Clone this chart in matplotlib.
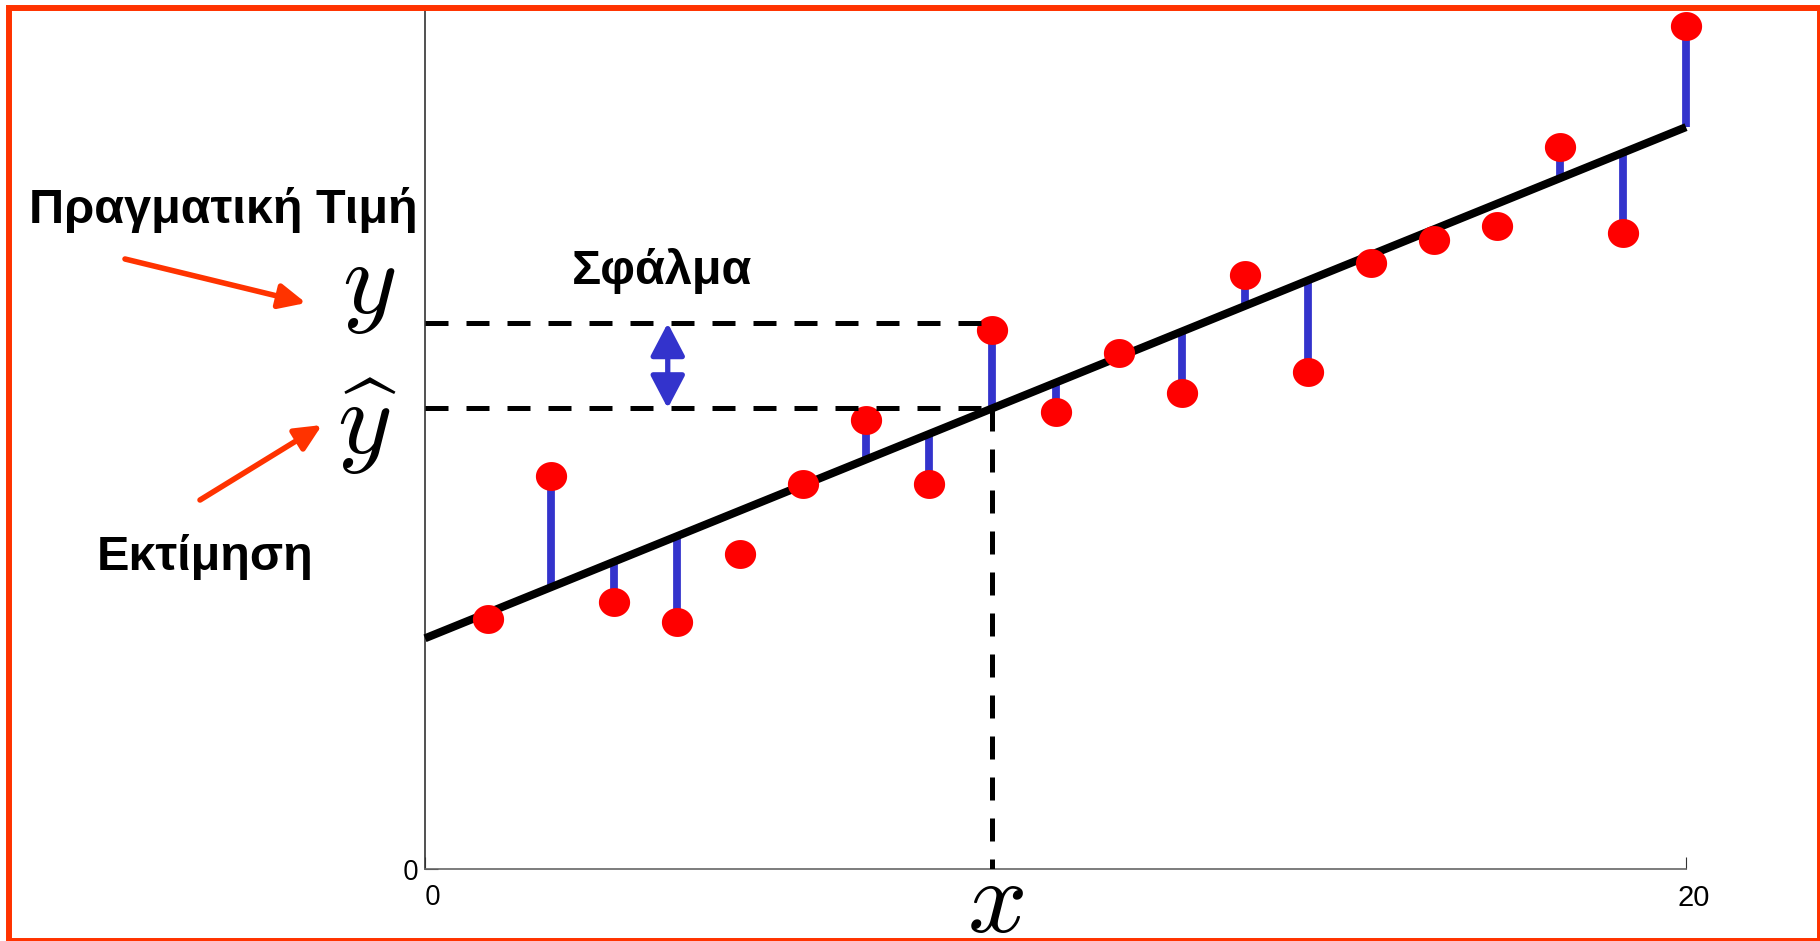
import numpy as np
import matplotlib
matplotlib.use('Agg')
from matplotlib import pyplot as plt
from matplotlib.patches import Rectangle, FancyArrowPatch
from matplotlib.path import Path
import matplotlib.transforms as mtransforms

plt.rcParams['mathtext.fontset'] = 'cm'

#Data
xPoints = [1, 2, 3, 4, 5, 6, 7, 8, 9, 10, 11, 12, 13, 14, 15, 16, 17, 18, 19, 20]
yPoints = [3.97, 6.24, 4.23, 3.92, 4.99, 6.11, 7.12, 6.11, 8.55, 7.25,
           8.19, 7.55, 9.42, 7.88, 9.61, 9.98, 10.2, 11.45, 10.09, 13.38]
hasStem = [1, 1, 1, 1, 0, 1, 1, 1, 1, 1, 1, 1, 1, 1, 1, 1, 0, 1, 1, 1]
lineIntercept = 3.66
lineSlope = 0.4055
lineRange = [0, 20]
errX = 9            #point used for the error illustration
errYTrue = 8.66     #level of the upper dashed line
arrowX = 3.85
xTicks = [0, 20]
xTickLabels = ['0', '20']
yTicks = [0]
yTickLabels = ['0']

W, H = 1820, 941
fig = plt.figure(figsize=(W / 100, H / 100), dpi=100)
fig.patch.set_facecolor('white')
ax = fig.add_axes([425 / W, 72 / H, (1686 - 425) / W, (869 - 8) / H])
ax.set_xlim(0, 20)
ax.set_ylim(0, 13.66)

xL = np.array(lineRange, dtype=float)
yL = lineIntercept + lineSlope * xL

#Residual stems
for xi, yi, s in zip(xPoints, yPoints, hasStem):
    if s:
        yh = lineIntercept + lineSlope * xi
        ax.plot([xi, xi], [yh, yi], color='#3333cc', lw=5.6, solid_capstyle='butt',
                zorder=2, clip_on=False)

#Regression line
ax.plot(xL, yL, color='black', lw=5.8, solid_capstyle='butt', zorder=3, clip_on=False)

#Points, slightly wider than tall
t = np.linspace(0, 2 * np.pi, 60)
ellipse = Path(np.column_stack([1.08 * np.cos(t), np.sin(t)]), closed=True)
ax.plot(xPoints, yPoints, linestyle='none', marker=ellipse, markersize=22.5,
        color='#ff0000', markeredgewidth=0, zorder=4, clip_on=False)

#Dashed guide lines
yHat = lineIntercept + lineSlope * errX
dashKw = dict(color='black', lw=3.6, dashes=(4.6, 3.6), zorder=5)
ax.plot([0, errX], [errYTrue, errYTrue], **dashKw)
ax.plot([0, errX], [yHat, yHat], **dashKw)
ax.plot([errX, errX], [yHat, 0], **dashKw)

#Blue double arrow
ax.annotate('', xy=(arrowX, yHat), xytext=(arrowX, errYTrue),
            arrowprops=dict(arrowstyle='<|-|>,head_length=2.0,head_width=1.05',
                            mutation_scale=10, color='#3333cc', lw=3.8,
                            shrinkA=0, shrinkB=0), zorder=6)

#Axes styling
for side in ['top', 'right']:
    ax.spines[side].set_visible(False)
ax.spines['left'].set_color('#333333')
ax.spines['bottom'].set_color('#666666')
ax.spines['left'].set_linewidth(1.2)
ax.spines['bottom'].set_linewidth(1.2)
ax.set_xticks(xTicks)
ax.set_xticklabels(xTickLabels)
ax.set_yticks(yTicks)
ax.set_yticklabels(yTickLabels)
ax.tick_params(direction='in', length=9, width=0.8, colors='#333333', labelcolor='black')
ax.tick_params(axis='x', pad=11, labelsize=21)
ax.tick_params(axis='y', pad=5, labelsize=20)
for lab in ax.get_xticklabels():
    lab.set_fontfamily('Liberation Sans')
    lab.set_transform(lab.get_transform() + mtransforms.ScaledTranslation(8 / 100, 0, fig.dpi_scale_trans))
ax.get_xticklabels()[0].set_fontfamily('Open Sans')
ax.get_xticklabels()[0].set_fontsize(20)
for lab in ax.get_yticklabels():
    lab.set_fontfamily('Open Sans')

#Labels
def ftext(px, py, s, **kw):
    fig.text(px / W, 1 - py / H, s, **kw)

boldKw = dict(fontsize=35, fontweight='bold', family='Liberation Sans', ha='center', va='baseline')
ftext(223, 223, 'Πραγματική Τιμή', **boldKw)
ftext(205, 570, 'Εκτίμηση', **boldKw)
ftext(662, 284, 'Σφάλμα', **boldKw)
ftext(369, 313, r'$y$', fontsize=75, ha='center', va='baseline')
ftext(367, 454, r'$\widehat{y}$', fontsize=75, ha='center', va='baseline')
ftext(995, 932, r'$x$', fontsize=75, ha='center', va='baseline')

#Red pointer arrows
def farrow(p0, p1):
    a = FancyArrowPatch((p0[0] / W, 1 - p0[1] / H), (p1[0] / W, 1 - p1[1] / H),
                        transform=fig.transFigure,
                        arrowstyle='-|>,head_length=1.6,head_width=0.75',
                        mutation_scale=10, color='#ff3300', lw=4.0,
                        shrinkA=0, shrinkB=0)
    fig.add_artist(a)

farrow((125, 259), (306, 303))
farrow((200, 500), (322, 425))

#Frame
fig.add_artist(Rectangle((9 / W, 0), (W - 9) / W, 1 - 8 / H, transform=fig.transFigure,
                         fill=False, edgecolor='#ff3300', lw=4.3))

fig.savefig('out.png', dpi=100)
plt.close('all')
